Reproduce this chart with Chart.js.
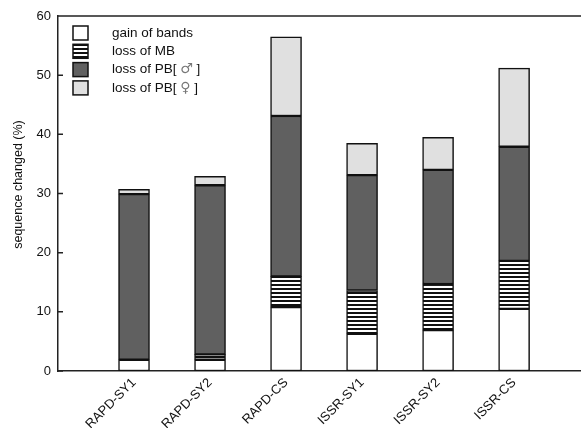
<!DOCTYPE html>
<html>
<head>
<meta charset="utf-8">
<script src="https://cdn.jsdelivr.net/npm/chart.js@4/dist/chart.umd.min.js"></script>
<style>
  html, body { margin: 0; padding: 0; background: #fff; }
  #wrap { width: 581px; height: 430px; }
</style>
</head>
<body>
<div id="wrap"><canvas id="chart"></canvas></div>
<script>
// data
const categories = ['RAPD-SY1', 'RAPD-SY2', 'RAPD-CS', 'ISSR-SY1', 'ISSR-SY2', 'ISSR-CS'];
const seriesNames = ['gain of bands', 'loss of MB', 'loss of PB[ \u2642 ]', 'loss of PB[ \u2640 ]'];
const gainOfBands = [1.9, 1.9, 10.8, 6.3, 6.9, 10.5];
const lossOfMB    = [0.0, 0.9, 5.2, 7.3, 7.8, 8.1];
const lossOfPBm   = [28.0, 28.6, 27.1, 19.5, 19.3, 19.3];
const lossOfPBf   = [0.8, 1.5, 13.4, 5.4, 5.5, 13.3];
const yTicks = [0, 10, 20, 30, 40, 50, 60];
const yTitle = 'sequence changed (%)';

Chart.defaults.font.family = "'Liberation Sans', Arial, sans-serif";
Chart.defaults.font.size = 13;
Chart.defaults.color = '#111';

// horizontal stripes for "loss of MB"
function stripes() {
  const c = document.createElement('canvas');
  c.width = 8; c.height = 4;
  const g = c.getContext('2d');
  g.fillStyle = '#fff';
  g.fillRect(0, 0, 8, 4);
  g.fillStyle = '#111';
  g.fillRect(0, 0, 8, 2);
  return g.createPattern(c, 'repeat');
}

const fills = ['#ffffff', stripes(), '#606060', '#e0e0e0'];
const series = [gainOfBands, lossOfMB, lossOfPBm, lossOfPBf];

const datasets = series.map((vals, i) => ({
  label: seriesNames[i],
  data: vals.map((v, j) => ({ x: j + 1, y: v })),
  backgroundColor: fills[i],
  borderColor: '#111',
  borderWidth: 1.5,
  borderSkipped: false,
  barThickness: 31
}));

const textFont = "13.5px 'Liberation Sans', Arial, sans-serif";
const symFont = "14px 'DejaVu Sans', sans-serif";

const framePlugin = {
  id: 'frame',
  afterDraw(chart) {
    const { ctx, chartArea: a, scales } = chart;
    ctx.save();
    ctx.strokeStyle = '#222';
    ctx.lineWidth = 1.5;
    ctx.beginPath();
    ctx.moveTo(a.left, a.top);
    ctx.lineTo(a.right, a.top);
    // inward ticks on the y axis
    yTicks.forEach(t => {
      const y = scales.y.getPixelForValue(t);
      ctx.moveTo(a.left, y);
      ctx.lineTo(a.left + 5, y);
    });
    ctx.stroke();

    // y axis title, sits a little above the middle
    ctx.save();
    ctx.font = "12.5px 'Liberation Sans', Arial, sans-serif";
    ctx.fillStyle = '#111';
    ctx.textAlign = 'center';
    ctx.textBaseline = 'middle';
    ctx.translate(a.left - 39, (a.top + a.bottom) / 2 - 9);
    ctx.rotate(-Math.PI / 2);
    ctx.fillText(yTitle, 0, 0);
    ctx.restore();

    // legend inside the plot
    ctx.textBaseline = 'middle';
    chart.data.datasets.forEach((ds, i) => {
      const x = a.left + 15, y = a.top + 10 + i * 18.3;
      ctx.fillStyle = ds.backgroundColor;
      ctx.fillRect(x, y, 15, 14);
      ctx.lineWidth = 1.5;
      ctx.strokeStyle = '#111';
      ctx.strokeRect(x, y, 15, 14);
      // gender signs come out lighter, in another font
      let tx = a.left + 54;
      for (const ch of ds.label) {
        const sym = ch === '\u2642' || ch === '\u2640';
        ctx.font = sym ? symFont : textFont;
        ctx.fillStyle = sym ? '#777' : '#111';
        ctx.fillText(ch, tx, y + 7);
        tx += ctx.measureText(ch).width;
      }
    });
    ctx.restore();
  }
};

new Chart(document.getElementById('chart'), {
  type: 'bar',
  data: { datasets },
  options: {
    responsive: true,
    maintainAspectRatio: false,
    animation: false,
    layout: { padding: { top: 16, right: 0, left: 0, bottom: 2 } },
    plugins: {
      legend: { display: false },
      tooltip: { enabled: false }
    },
    scales: {
      x: {
        type: 'linear',
        stacked: true,
        offset: false,
        min: 0,
        max: 6.88,
        grid: { display: false, drawTicks: false, offset: false },
        border: { display: true, color: '#222', width: 1.5 },
        afterBuildTicks: s => { s.ticks = categories.map((c, i) => ({ value: i + 1 })); },
        afterFit: s => { s.height = 57; },
        ticks: {
          autoSkip: false,
          maxRotation: 45,
          minRotation: 45,
          padding: 4,
          callback: v => categories[v - 1] || ''
        }
      },
      y: {
        stacked: true,
        min: 0,
        max: 60,
        grid: { display: false, drawTicks: false },
        border: { display: true, color: '#222', width: 1.5 },
        afterFit: s => { s.width = 58; },
        ticks: { stepSize: 10, padding: 7 }
      }
    }
  },
  plugins: [framePlugin]
});
</script>
</body>
</html>
